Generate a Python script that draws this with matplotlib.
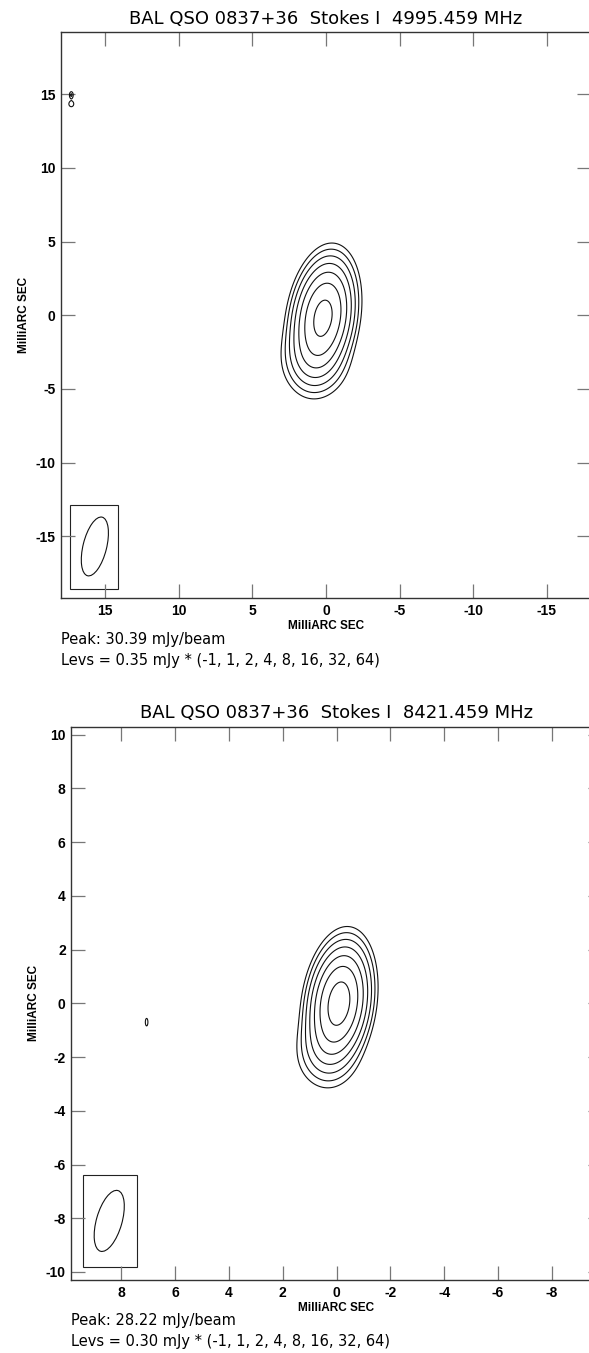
import numpy as np
import matplotlib
matplotlib.use("Agg")
import matplotlib.pyplot as plt
from matplotlib.patches import Ellipse, Rectangle

plt.rcParams["axes.unicode_minus"] = False

# Contour multipliers shared by both maps
lev_mult = [-1, 1, 2, 4, 8, 16, 32, 64]

# 4995 MHz map
title_c = "BAL QSO 0837+36  Stokes I  4995.459 MHz"
peak_c = 30.39
lev0_c = 0.35
ticks_c = [15, 10, 5, 0, -5, -10, -15]
lim_c = (18.0, 19.2)
# gaussian components of the source: x, y (mas), amplitude (mJy), major, minor sigma (mas), pa (deg)
cx_c = [0.2, 0.9, 0.7, 17.3, 17.3]
cy_c = [-0.15, -2.6, -3.4, 14.95, 14.35]
camp_c = [28.4, 1.6, 0.8, 0.8, 0.7]
cmaj_c = [1.72, 1.1, 1.3, 0.18, 0.16]
cmin_c = [0.86, 0.9, 1.3, 0.10, 0.14]
cpa_c = [9, 0, 0, 0, 0]
# restoring beam: x, y, major, minor, pa and box around it
beam_c = [15.7, -15.7, 4.1, 1.6, 14]
box_c = [17.4, 14.1, -18.6, -12.9]

# 8421 MHz map
title_x = "BAL QSO 0837+36  Stokes I  8421.459 MHz"
peak_x = 28.22
lev0_x = 0.30
ticks_x = [8, 6, 4, 2, 0, -2, -4, -6, -8]
yticks_x = [10, 8, 6, 4, 2, 0, -2, -4, -6, -8, -10]
lim_x = (9.86, 10.3)
cx_x = [-0.09, 0.5, 0.4, 7.06]
cy_x = [0.0, -1.5, -2.1, -0.7]
camp_x = [27.2, 1.0, 0.5, 0.6]
cmaj_x = [0.96, 0.6, 0.7, 0.12]
cmin_x = [0.47, 0.45, 0.7, 0.04]
cpa_x = [8, 0, 0, 0]
beam_x = [8.45, -8.1, 2.35, 0.95, 16]
box_x = [9.44, 7.43, -9.8, -6.4]


def model(xx, yy, cx, cy, camp, cmaj, cmin, cpa):
    # Sum of elliptical gaussians, major axis tilted by pa towards negative x
    img = np.zeros_like(xx)
    for x0, y0, a, smaj, smin, pa in zip(cx, cy, camp, cmaj, cmin, cpa):
        t = np.radians(pa)
        dx = xx - x0
        dy = yy - y0
        u = -dx * np.sin(t) + dy * np.cos(t)
        v = dx * np.cos(t) + dy * np.sin(t)
        img += a * np.exp(-(u**2 / (2 * smaj**2) + v**2 / (2 * smin**2)))
    return img


def panel(ax, title, peak, lev0, comps, lim, xt, yt, beam, box):
    xl, yl = lim
    x = np.linspace(-xl, xl, 1000)
    y = np.linspace(-yl, yl, 1000)
    xx, yy = np.meshgrid(x, y)
    img = model(xx, yy, *comps)
    levels = [lev0 * m for m in lev_mult]
    ax.contour(xx, yy, img, levels=levels, colors="#111111", linewidths=0.8)

    # beam in its box
    bx, by, bmaj, bmin, bpa = beam
    ax.add_patch(Rectangle((box[1], box[2]), box[0] - box[1], box[3] - box[2],
                           fill=False, ec="#222222", lw=0.8))
    ax.add_patch(Ellipse((bx, by), bmin, bmaj, angle=bpa,
                         fill=False, ec="#111111", lw=0.8))

    ax.set_xlim(xl, -xl)
    ax.set_ylim(-yl, yl)
    ax.set_xticks(xt)
    ax.set_yticks(yt)
    ax.tick_params(direction="in", length=10, width=0.9, color="#777777",
                   top=True, right=True, pad=4, labelsize=10)
    for lab in ax.get_xticklabels() + ax.get_yticklabels():
        lab.set_fontfamily("Liberation Sans")
        lab.set_fontweight("bold")
    for s in ax.spines.values():
        s.set_color("#333333")
        s.set_linewidth(1.0)
    ax.set_xlabel("MilliARC SEC", fontfamily="Liberation Sans", fontweight="bold",
                  fontsize=8.5, labelpad=1.5)
    ax.set_ylabel("MilliARC SEC", fontfamily="Liberation Sans", fontweight="bold",
                  fontsize=8.5, labelpad=4)
    ax.set_title(title, fontsize=13, pad=6, fontfamily="DejaVu Sans")
    ax.text(0, -0.074, "Peak: %.2f mJy/beam" % peak, transform=ax.transAxes,
            ha="left", va="center", fontsize=10.5)
    ax.text(0, -0.111, "Levs = %.2f mJy * (%s)" % (lev0, ", ".join(str(m) for m in lev_mult)),
            transform=ax.transAxes, ha="left", va="center", fontsize=10.5)


W, H = 589, 1353
fig = plt.figure(figsize=(W / 100, H / 100), dpi=100)

ax1 = fig.add_axes([61 / W, 1 - 598 / H, 530 / W, 565.5 / H])
panel(ax1, title_c, peak_c, lev0_c, (cx_c, cy_c, camp_c, cmaj_c, cmin_c, cpa_c),
      lim_c, ticks_c, ticks_c, beam_c, box_c)

ax2 = fig.add_axes([71.3 / W, 1 - 1280 / H, 530.5 / W, 553.3 / H])
panel(ax2, title_x, peak_x, lev0_x, (cx_x, cy_x, camp_x, cmaj_x, cmin_x, cpa_x),
      lim_x, ticks_x, yticks_x, beam_x, box_x)

fig.savefig("out.png", dpi=100)
